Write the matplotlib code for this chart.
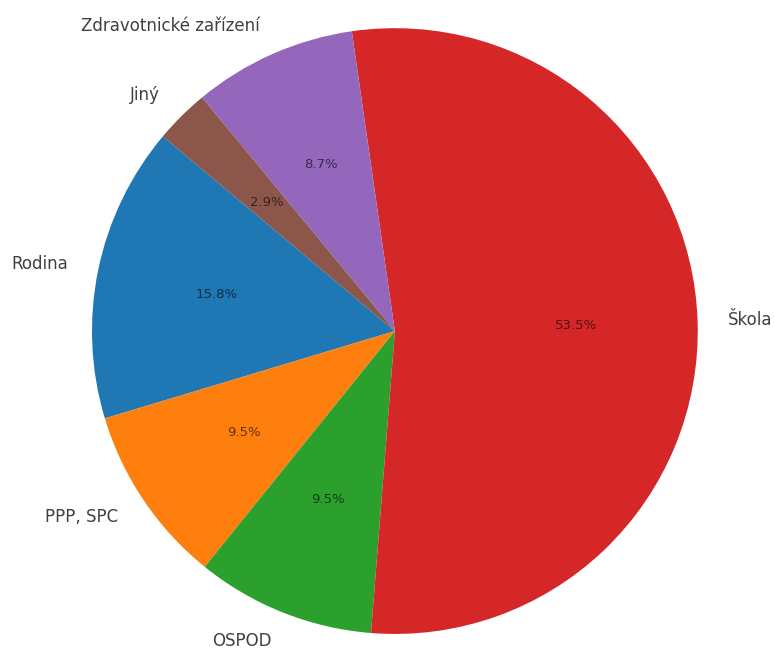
import matplotlib.pyplot as plt

kategorie = ["Rodina", "PPP, SPC", "OSPOD", "Škola", "Zdravotnické zařízení", "Jiný"]
pocty = [38, 23, 23, 129, 21, 7]
barvy = ["#1f77b4", "#ff7f0e", "#2ca02c", "#d62728", "#9467bd", "#8c564b"]

fig = plt.figure(figsize=(7.74, 6.5), dpi=100)
ax = fig.add_axes([0, 0, 1, 1])

wedges, texty, procenta = ax.pie(
    pocty, labels=kategorie, colors=barvy, autopct="%1.1f%%",
    startangle=140, labeldistance=1.1, pctdistance=0.6,
    textprops={"fontsize": 12, "color": "#404040"})

for t in procenta:
    t.set_fontsize(9.5)
    t.set_color("black")
    t.set_alpha(0.6)

ax.set_aspect("equal")
ax.set_xlim(-1.277 - 0.026, 1.277 - 0.026)
ax.set_ylim(-1.073 + 0.02, 1.073 + 0.02)
ax.axis("off")

fig.savefig("out.png", dpi=100)
